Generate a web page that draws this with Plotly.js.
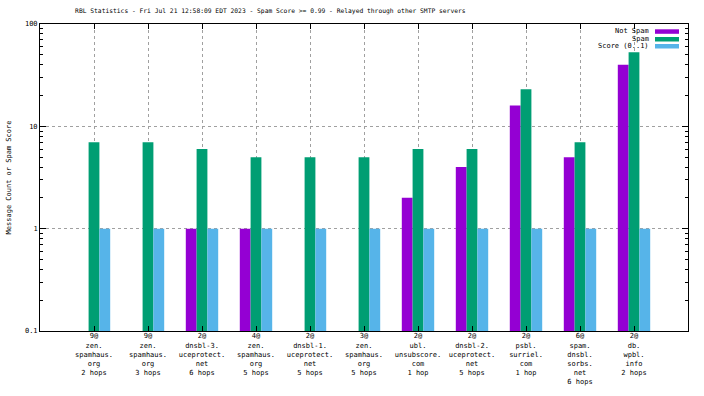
<!DOCTYPE html>
<html>
<head>
<meta charset="utf-8">
<script src="https://cdn.plot.ly/plotly-3.0.1.min.js"></script>
<style>html,body{margin:0;padding:0;background:#fff;}#chart{width:704px;height:396px;}</style>
</head>
<body>
<div id="chart"></div>
<script>
const categories = [
  "9@<br>zen.<br>spamhaus.<br>org<br>2 hops",
  "9@<br>zen.<br>spamhaus.<br>org<br>3 hops",
  "2@<br>dnsbl-3.<br>uceprotect.<br>net<br>6 hops",
  "4@<br>zen.<br>spamhaus.<br>org<br>5 hops",
  "2@<br>dnsbl-1.<br>uceprotect.<br>net<br>5 hops",
  "3@<br>zen.<br>spamhaus.<br>org<br>5 hops",
  "2@<br>ubl.<br>unsubscore.<br>com<br>1 hop",
  "2@<br>dnsbl-2.<br>uceprotect.<br>net<br>5 hops",
  "2@<br>psbl.<br>surriel.<br>com<br>1 hop",
  "6@<br>spam.<br>dnsbl.<br>sorbs.<br>net<br>6 hops",
  "2@<br>db.<br>wpbl.<br>info<br>2 hops"
];
const positions = [1,2,3,4,5,6,7,8,9,10,11];
const notSpam = [null, null, 1, 1, null, null, 2, 4, 16, 5, 40];
const spam    = [7, 7, 6, 5, 5, 5, 6, 6, 23, 7, 53];
const score   = [1, 1, 1, 1, 1, 1, 1, 1, 1, 1, 1];
const seriesNames = ['Not Spam', 'Spam', 'Score (0..1)'];
const seriesColors = ['#9400d3', '#009e73', '#56b4e9'];

const FONT = "DejaVu Sans Mono, monospace";
const W = 704, H = 396, ML = 40, MR = 16, MT = 24, MB = 65;
const PW = W - ML - MR, PH = H - MT - MB;
const px = v => (v - ML) / PW;
const py = v => 1 - (v - MT) / PH;

const seriesData = [notSpam, spam, score];
const traces = seriesData.map((d, i) => ({
  type:'bar', name:seriesNames[i], x:positions, y:d,
  marker:{color:seriesColors[i], line:{width:0}}, showlegend:false
}));

// gnuplot-style key: right-aligned text with swatch to its right
const keyRowsY = [31.3, 39, 46];
const annotations = seriesNames.map((n, i) => ({
  xref:'paper', yref:'paper', x:px(651), y:py(keyRowsY[i]), xanchor:'right', yanchor:'middle',
  text:n, showarrow:false, font:{family:FONT, size:7, color:'#000'}
}));
const shapes = seriesNames.map((n, i) => ({
  type:'rect', xref:'paper', yref:'paper', x0:px(655), x1:px(679),
  y0:py(keyRowsY[i] - 2), y1:py(keyRowsY[i] + 2.5), fillcolor:seriesColors[i], line:{width:0}
}));

const layout = {
  width:W, height:H,
  margin:{l:ML, r:MR, t:MT, b:MB, pad:0},
  paper_bgcolor:'#fff', plot_bgcolor:'#fff',
  font:{family:FONT, size:7, color:'#000'},
  title:{text:'RBL Statistics - Fri Jul 21 12:58:09 EDT 2023 - Spam Score >= 0.99 - Relayed through other SMTP servers',
         font:{family:FONT, size:6.3, color:'#000'}, x:0.384, xanchor:'center', y:0.972, yanchor:'middle'},
  barmode:'group', bargap:0.4, bargroupgap:0,
  showlegend:false,
  annotations:annotations, shapes:shapes,
  xaxis:{range:[0,12], tickmode:'array', tickvals:positions, ticktext:categories,
         ticks:'inside', ticklen:5, tickcolor:'#000', showline:true, linecolor:'#000', linewidth:1, mirror:'ticks',
         showgrid:true, gridcolor:'#a0a0a0', griddash:'3px,3px', gridwidth:1, zeroline:false,
         ticklabelstandoff:-2,
         tickfont:{family:FONT, size:7, color:'#000'}, fixedrange:true},
  yaxis:{type:'log', range:[-1,2], tickmode:'array', tickvals:[0.1,1,10,100], ticktext:['0.1','1','10','100'],
         ticks:'inside', ticklen:6, tickcolor:'#000', showline:true, linecolor:'#000', linewidth:1, mirror:'ticks',
         showgrid:true, gridcolor:'#a0a0a0', griddash:'3px,3px', gridwidth:1, zeroline:false,
         minor:{ticks:'inside', ticklen:3, tickcolor:'#000', showgrid:false,
                tickvals:[0.2,0.3,0.4,0.5,0.6,0.7,0.8,0.9,2,3,4,5,6,7,8,9,20,30,40,50,60,70,80,90]},
         tickfont:{family:FONT, size:7, color:'#000'},
         title:{text:'Message Count or Spam Score', font:{family:FONT, size:7, color:'#000'}, standoff:12}}
};
Plotly.newPlot('chart', traces, layout, {displayModeBar:false, staticPlot:true});
</script>
</body>
</html>
